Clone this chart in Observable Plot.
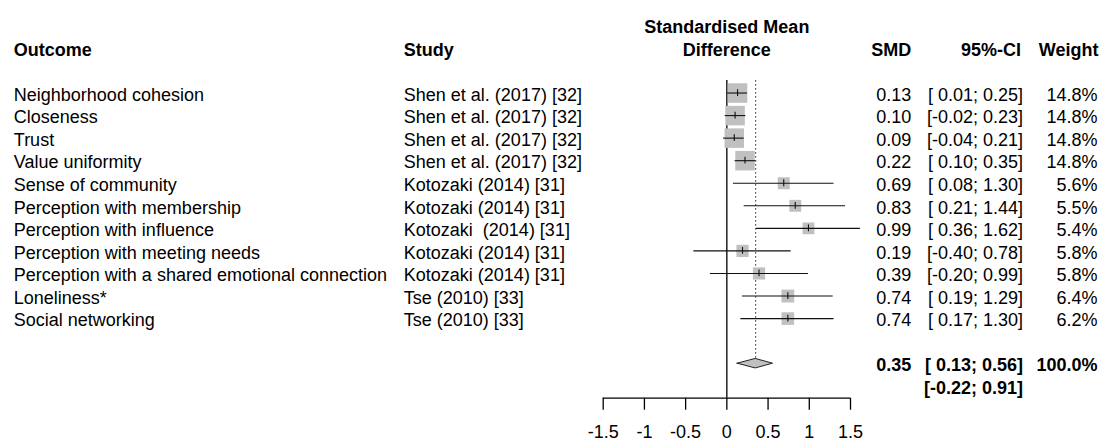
<!DOCTYPE html>
<html>
<head>
<meta charset="utf-8">
<script src="https://cdn.jsdelivr.net/npm/d3@7"></script>
<script src="https://cdn.jsdelivr.net/npm/@observablehq/plot@0.6"></script>
<style>
  html, body { margin: 0; padding: 0; background: #fff; }
  svg { display: block; white-space: pre; }
</style>
</head>
<body>
<div id="chart"></div>
<script>
// ---- data ----
const outcomes = [
  "Neighborhood cohesion", "Closeness", "Trust", "Value uniformity",
  "Sense of community", "Perception with membership", "Perception with influence",
  "Perception with meeting needs", "Perception with a shared emotional connection",
  "Loneliness*", "Social networking"
];
const studies = [
  "Shen et al. (2017) [32]", "Shen et al. (2017) [32]", "Shen et al. (2017) [32]", "Shen et al. (2017) [32]",
  "Kotozaki (2014) [31]", "Kotozaki (2014) [31]", "Kotozaki  (2014) [31]",
  "Kotozaki (2014) [31]", "Kotozaki (2014) [31]",
  "Tse (2010) [33]", "Tse (2010) [33]"
];
const smd    = [0.13, 0.10, 0.09, 0.22, 0.69, 0.83, 0.99, 0.19, 0.39, 0.74, 0.74];
const lower  = [0.01, -0.02, -0.04, 0.10, 0.08, 0.21, 0.36, -0.40, -0.20, 0.19, 0.17];
const upper  = [0.25, 0.23, 0.21, 0.35, 1.30, 1.44, 1.62, 0.78, 0.99, 1.29, 1.30];
const weight = [14.8, 14.8, 14.8, 14.8, 5.6, 5.5, 5.4, 5.8, 5.8, 6.4, 6.2];

const summary = {smd: 0.35, lower: 0.13, upper: 0.56, weight: 100.0};
const prediction = {lower: -0.22, upper: 0.91};

const headers = {outcome: "Outcome", study: "Study", smd: "SMD", ci: "95%-CI", weight: "Weight"};
const titleLines = ["Standardised Mean", "Difference"];
const xTicks = [-1.5, -1, -0.5, 0, 0.5, 1, 1.5];

// ---- derived table ----
const f2 = v => v.toFixed(2);
const ciText = (lo, hi) => "[" + (lo < 0 ? "" : " ") + f2(lo) + "; " + f2(hi) + "]";
const rows = outcomes.map((o, i) => ({
  row: i, outcome: o, study: studies[i], smd: smd[i], lower: lower[i], upper: upper[i], weight: weight[i],
  smdText: f2(smd[i]), ciText: ciText(lower[i], upper[i]), wText: weight[i].toFixed(1) + "%"
}));
const summaryRow = rows.length + 1;
const predRow = summaryRow + 1;
const headerRow = -2;
const titleRow = -3;
const axisRow = 13.53;
const lineTop = -0.55;
const dh = 0.21;

const sumData = [{row: summaryRow, smd: summary.smd, smdText: f2(summary.smd),
  ciText: ciText(summary.lower, summary.upper), wText: summary.weight.toFixed(1) + "%"}];
const predData = [{row: predRow, ciText: ciText(prediction.lower, prediction.upper)}];
const diamond = [
  {x: summary.lower, y1: summaryRow, y2: summaryRow},
  {x: summary.smd, y1: summaryRow - dh, y2: summaryRow + dh},
  {x: summary.upper, y1: summaryRow, y2: summaryRow}
];
const headerData = [{row: headerRow, ...headers}];
const titleData = titleLines.map((t, i) => ({row: titleRow + i, t}));

const ML = 602.7, MR = 252;
const FS = 18;
const TDY = 2;
const common = {fontSize: FS, fill: "#000", dy: TDY};

const plot = Plot.plot({
  width: 1102,
  height: 441,
  marginLeft: ML,
  marginRight: MR,
  marginTop: 0,
  marginBottom: 43.3,
  style: {fontFamily: "'Liberation Sans', Arial, sans-serif", background: "#fff", overflow: "visible"},
  x: {domain: [-1.5, 1.5]},
  y: {domain: [-4.102, axisRow], reverse: true, axis: null},
  r: {type: "sqrt", domain: [0, 14.8], range: [0, 11.0]},
  marks: [
    // reference lines
    Plot.ruleX([0], {y1: lineTop, y2: axisRow, stroke: "#000", strokeWidth: 1.3}),
    Plot.ruleX([summary], {x: "smd", y1: lineTop, y2: summaryRow - dh, stroke: "#222", strokeWidth: 1, strokeDasharray: "1.5,2.5"}),
    // boxes
    Plot.dot(rows, {x: "smd", y: "row", r: "weight", symbol: "square", fill: "#c0c0c0", stroke: "none"}),
    // CI lines
    Plot.ruleY(rows, {y: "row", x1: "lower", x2: "upper", stroke: "#111", strokeWidth: 1.1}),
    Plot.ruleX(rows, {x: "smd", y1: d => d.row - 0.15, y2: d => d.row + 0.15, stroke: "#111", strokeWidth: 1.1}),
    // diamond
    Plot.areaY(diamond, {x: "x", y1: "y1", y2: "y2", fill: "#c0c0c0", stroke: "#222", strokeWidth: 1}),
    // axis
    Plot.ruleY([{y: axisRow, x1: d3.min(xTicks), x2: d3.max(xTicks)}], {y: "y", x1: "x1", x2: "x2", stroke: "#000", strokeWidth: 1.3}),
    Plot.axisX({ticks: xTicks, tickSize: 12, tickPadding: 15, tickFormat: d => String(d), fontSize: FS, label: null, stroke: "#000", strokeWidth: 1.3, fill: "#000"}),
    // title
    Plot.text(titleData, {y: "row", text: "t", frameAnchor: "middle", textAnchor: "middle", fontWeight: "bold", ...common}),
    // headers
    Plot.text(headerData, {y: "row", text: "outcome", frameAnchor: "left", textAnchor: "start", dx: 13.3 - ML, fontWeight: "bold", ...common}),
    Plot.text(headerData, {y: "row", text: "study", frameAnchor: "left", textAnchor: "start", dx: 403.3 - ML, fontWeight: "bold", ...common}),
    Plot.text(headerData, {y: "row", text: "smd", frameAnchor: "right", textAnchor: "end", dx: 60.7, fontWeight: "bold", ...common}),
    Plot.text(headerData, {y: "row", text: "ci", frameAnchor: "right", textAnchor: "end", dx: 170.5, fontWeight: "bold", ...common}),
    Plot.text(headerData, {y: "row", text: "weight", frameAnchor: "right", textAnchor: "end", dx: 248, fontWeight: "bold", ...common}),
    // study rows
    Plot.text(rows, {y: "row", text: "outcome", frameAnchor: "left", textAnchor: "start", dx: 13.3 - ML, ...common}),
    Plot.text(rows, {y: "row", text: "study", frameAnchor: "left", textAnchor: "start", dx: 403.3 - ML, ...common}),
    Plot.text(rows, {y: "row", text: "smdText", frameAnchor: "right", textAnchor: "end", dx: 60.7, ...common}),
    Plot.text(rows, {y: "row", text: "ciText", frameAnchor: "right", textAnchor: "end", dx: 172.5, ...common}),
    Plot.text(rows, {y: "row", text: "wText", frameAnchor: "right", textAnchor: "end", dx: 247, ...common}),
    // summary
    Plot.text(sumData, {y: "row", text: "smdText", frameAnchor: "right", textAnchor: "end", dx: 60.7, fontWeight: "bold", ...common}),
    Plot.text(sumData, {y: "row", text: "ciText", frameAnchor: "right", textAnchor: "end", dx: 172.5, fontWeight: "bold", ...common}),
    Plot.text(sumData, {y: "row", text: "wText", frameAnchor: "right", textAnchor: "end", dx: 247, fontWeight: "bold", ...common}),
    Plot.text(predData, {y: "row", text: "ciText", frameAnchor: "right", textAnchor: "end", dx: 172.5, fontWeight: "bold", ...common})
  ]
});
document.getElementById("chart").appendChild(plot);
</script>
</body>
</html>
